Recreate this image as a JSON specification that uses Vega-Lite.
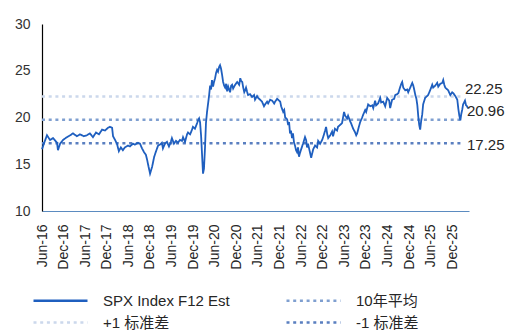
{
  "$schema": "https://vega.github.io/schema/vega-lite/v6.json",
  "width": 427,
  "height": 187,
  "autosize": {"type": "none"},
  "padding": {"left": 42, "top": 24, "right": 43, "bottom": 123},
  "background": "white",
  "config": {"view": {"stroke": null}, "font": "Liberation Sans", "axis": {"labelOverlap": false}},
  "datasets": {
    "spx": [
      {"d":"2016-06-01","SPX Index F12 Est":16.6},{"d":"2016-06-17","SPX Index F12 Est":17.2},{"d":"2016-07-13","SPX Index F12 Est":18.1},{"d":"2016-08-08","SPX Index F12 Est":17.6},{"d":"2016-09-03","SPX Index F12 Est":17.8},{"d":"2016-10-06","SPX Index F12 Est":17.3},{"d":"2016-10-14","SPX Index F12 Est":16.5},{"d":"2016-11-01","SPX Index F12 Est":17.2},{"d":"2016-11-26","SPX Index F12 Est":17.6},{"d":"2016-12-29","SPX Index F12 Est":17.9},
      {"d":"2017-01-25","SPX Index F12 Est":18.1},{"d":"2017-02-18","SPX Index F12 Est":18.3},{"d":"2017-03-23","SPX Index F12 Est":18.0},{"d":"2017-04-18","SPX Index F12 Est":18.2},{"d":"2017-05-21","SPX Index F12 Est":18.0},{"d":"2017-06-16","SPX Index F12 Est":18.1},{"d":"2017-07-11","SPX Index F12 Est":18.3},{"d":"2017-08-06","SPX Index F12 Est":17.9},{"d":"2017-09-01","SPX Index F12 Est":18.4},{"d":"2017-09-26","SPX Index F12 Est":18.2},{"d":"2017-10-22","SPX Index F12 Est":18.7},{"d":"2017-11-16","SPX Index F12 Est":18.6},{"d":"2017-12-11","SPX Index F12 Est":18.9},{"d":"2017-12-28","SPX Index F12 Est":19.0},
      {"d":"2018-01-15","SPX Index F12 Est":18.9},{"d":"2018-01-23","SPX Index F12 Est":18.0},{"d":"2018-02-09","SPX Index F12 Est":17.6},{"d":"2018-02-25","SPX Index F12 Est":17.2},{"d":"2018-03-13","SPX Index F12 Est":16.4},{"d":"2018-03-30","SPX Index F12 Est":16.8},{"d":"2018-04-16","SPX Index F12 Est":16.5},{"d":"2018-05-03","SPX Index F12 Est":16.8},{"d":"2018-05-29","SPX Index F12 Est":17.0},{"d":"2018-06-15","SPX Index F12 Est":16.9},{"d":"2018-07-10","SPX Index F12 Est":17.2},{"d":"2018-07-27","SPX Index F12 Est":17.1},{"d":"2018-08-22","SPX Index F12 Est":17.3},{"d":"2018-09-08","SPX Index F12 Est":17.2},{"d":"2018-09-25","SPX Index F12 Est":16.7},{"d":"2018-10-12","SPX Index F12 Est":16.3},{"d":"2018-10-28","SPX Index F12 Est":16.0},{"d":"2018-11-07","SPX Index F12 Est":15.5},{"d":"2018-11-15","SPX Index F12 Est":15.0},{"d":"2018-12-02","SPX Index F12 Est":14.0},{"d":"2018-12-19","SPX Index F12 Est":14.7},
      {"d":"2019-01-06","SPX Index F12 Est":15.8},{"d":"2019-01-22","SPX Index F12 Est":16.4},{"d":"2019-02-08","SPX Index F12 Est":17.0},{"d":"2019-02-24","SPX Index F12 Est":17.1},{"d":"2019-03-12","SPX Index F12 Est":17.3},{"d":"2019-03-21","SPX Index F12 Est":16.7},{"d":"2019-04-07","SPX Index F12 Est":17.2},{"d":"2019-04-24","SPX Index F12 Est":17.4},{"d":"2019-05-11","SPX Index F12 Est":16.9},{"d":"2019-05-27","SPX Index F12 Est":17.4},{"d":"2019-06-05","SPX Index F12 Est":17.8},{"d":"2019-06-22","SPX Index F12 Est":17.2},{"d":"2019-07-09","SPX Index F12 Est":17.5},{"d":"2019-07-26","SPX Index F12 Est":17.3},{"d":"2019-08-12","SPX Index F12 Est":17.6},{"d":"2019-08-29","SPX Index F12 Est":17.5},{"d":"2019-09-07","SPX Index F12 Est":17.9},{"d":"2019-09-24","SPX Index F12 Est":17.4},{"d":"2019-10-11","SPX Index F12 Est":18.2},{"d":"2019-10-19","SPX Index F12 Est":18.4},{"d":"2019-11-06","SPX Index F12 Est":18.2},{"d":"2019-11-22","SPX Index F12 Est":18.7},{"d":"2019-11-30","SPX Index F12 Est":19.0},{"d":"2019-12-17","SPX Index F12 Est":18.8},
      {"d":"2020-01-04","SPX Index F12 Est":19.4},{"d":"2020-01-12","SPX Index F12 Est":19.7},{"d":"2020-01-21","SPX Index F12 Est":19.9},{"d":"2020-01-29","SPX Index F12 Est":19.5},{"d":"2020-02-07","SPX Index F12 Est":18.0},{"d":"2020-02-15","SPX Index F12 Est":16.0},{"d":"2020-02-23","SPX Index F12 Est":14.0},{"d":"2020-03-02","SPX Index F12 Est":14.5},{"d":"2020-03-11","SPX Index F12 Est":16.8},{"d":"2020-03-19","SPX Index F12 Est":19.4},{"d":"2020-03-28","SPX Index F12 Est":20.6},{"d":"2020-04-06","SPX Index F12 Est":21.5},{"d":"2020-04-14","SPX Index F12 Est":22.3},{"d":"2020-04-23","SPX Index F12 Est":23.4},{"d":"2020-05-01","SPX Index F12 Est":23.0},{"d":"2020-05-09","SPX Index F12 Est":24.0},{"d":"2020-05-18","SPX Index F12 Est":23.3},{"d":"2020-05-26","SPX Index F12 Est":23.8},{"d":"2020-06-04","SPX Index F12 Est":24.2},{"d":"2020-06-13","SPX Index F12 Est":24.8},{"d":"2020-06-21","SPX Index F12 Est":25.1},{"d":"2020-06-29","SPX Index F12 Est":24.9},{"d":"2020-07-08","SPX Index F12 Est":25.4},{"d":"2020-07-16","SPX Index F12 Est":25.6},{"d":"2020-07-25","SPX Index F12 Est":25.2},{"d":"2020-08-03","SPX Index F12 Est":24.5},{"d":"2020-08-11","SPX Index F12 Est":23.8},{"d":"2020-08-20","SPX Index F12 Est":23.4},{"d":"2020-08-28","SPX Index F12 Est":23.2},{"d":"2020-09-06","SPX Index F12 Est":23.6},{"d":"2020-09-14","SPX Index F12 Est":22.8},{"d":"2020-09-23","SPX Index F12 Est":23.3},{"d":"2020-10-01","SPX Index F12 Est":23.0},{"d":"2020-10-09","SPX Index F12 Est":22.7},{"d":"2020-10-18","SPX Index F12 Est":23.4},{"d":"2020-10-26","SPX Index F12 Est":23.5},{"d":"2020-11-04","SPX Index F12 Est":23.1},{"d":"2020-11-21","SPX Index F12 Est":23.5},{"d":"2020-12-08","SPX Index F12 Est":23.8},{"d":"2020-12-25","SPX Index F12 Est":23.5},
      {"d":"2021-01-03","SPX Index F12 Est":24.2},{"d":"2021-01-11","SPX Index F12 Est":23.9},{"d":"2021-01-20","SPX Index F12 Est":23.8},{"d":"2021-01-28","SPX Index F12 Est":23.2},{"d":"2021-02-06","SPX Index F12 Est":22.7},{"d":"2021-02-13","SPX Index F12 Est":22.9},{"d":"2021-02-21","SPX Index F12 Est":23.2},{"d":"2021-03-01","SPX Index F12 Est":22.8},{"d":"2021-03-10","SPX Index F12 Est":22.4},{"d":"2021-03-27","SPX Index F12 Est":22.5},{"d":"2021-04-13","SPX Index F12 Est":22.2},{"d":"2021-04-30","SPX Index F12 Est":22.4},{"d":"2021-05-08","SPX Index F12 Est":21.9},{"d":"2021-05-25","SPX Index F12 Est":22.3},{"d":"2021-06-03","SPX Index F12 Est":22.1},{"d":"2021-06-20","SPX Index F12 Est":21.9},{"d":"2021-07-06","SPX Index F12 Est":21.7},{"d":"2021-07-23","SPX Index F12 Est":21.2},{"d":"2021-08-01","SPX Index F12 Est":21.4},{"d":"2021-08-18","SPX Index F12 Est":21.7},{"d":"2021-08-27","SPX Index F12 Est":21.5},{"d":"2021-09-13","SPX Index F12 Est":21.9},{"d":"2021-09-30","SPX Index F12 Est":21.8},{"d":"2021-10-17","SPX Index F12 Est":21.5},{"d":"2021-10-25","SPX Index F12 Est":21.7},{"d":"2021-11-11","SPX Index F12 Est":22.0},{"d":"2021-11-20","SPX Index F12 Est":21.9},{"d":"2021-12-07","SPX Index F12 Est":21.7},{"d":"2021-12-15","SPX Index F12 Est":21.2},
      {"d":"2022-01-01","SPX Index F12 Est":20.6},{"d":"2022-01-10","SPX Index F12 Est":20.8},{"d":"2022-01-18","SPX Index F12 Est":20.0},{"d":"2022-02-04","SPX Index F12 Est":19.8},{"d":"2022-02-12","SPX Index F12 Est":19.2},{"d":"2022-02-20","SPX Index F12 Est":19.5},{"d":"2022-02-28","SPX Index F12 Est":18.3},{"d":"2022-03-08","SPX Index F12 Est":18.6},{"d":"2022-03-17","SPX Index F12 Est":17.8},{"d":"2022-03-25","SPX Index F12 Est":18.3},{"d":"2022-04-03","SPX Index F12 Est":17.3},{"d":"2022-04-11","SPX Index F12 Est":17.0},{"d":"2022-04-20","SPX Index F12 Est":16.5},{"d":"2022-04-28","SPX Index F12 Est":16.3},{"d":"2022-05-07","SPX Index F12 Est":16.8},{"d":"2022-05-15","SPX Index F12 Est":15.8},{"d":"2022-05-23","SPX Index F12 Est":16.2},{"d":"2022-06-10","SPX Index F12 Est":16.9},{"d":"2022-06-18","SPX Index F12 Est":17.2},{"d":"2022-07-05","SPX Index F12 Est":17.9},{"d":"2022-07-14","SPX Index F12 Est":17.6},{"d":"2022-07-22","SPX Index F12 Est":16.8},{"d":"2022-07-30","SPX Index F12 Est":17.2},{"d":"2022-08-17","SPX Index F12 Est":16.2},{"d":"2022-08-26","SPX Index F12 Est":15.7},{"d":"2022-09-12","SPX Index F12 Est":16.6},{"d":"2022-09-28","SPX Index F12 Est":17.0},{"d":"2022-10-15","SPX Index F12 Est":16.8},{"d":"2022-10-24","SPX Index F12 Est":17.5},{"d":"2022-11-10","SPX Index F12 Est":17.2},{"d":"2022-11-27","SPX Index F12 Est":17.6},{"d":"2022-12-05","SPX Index F12 Est":17.9},{"d":"2022-12-22","SPX Index F12 Est":18.6},{"d":"2022-12-30","SPX Index F12 Est":19.0},
      {"d":"2023-01-09","SPX Index F12 Est":18.2},{"d":"2023-01-17","SPX Index F12 Est":17.8},{"d":"2023-02-03","SPX Index F12 Est":18.1},{"d":"2023-02-11","SPX Index F12 Est":18.3},{"d":"2023-02-19","SPX Index F12 Est":18.5},{"d":"2023-02-27","SPX Index F12 Est":18.0},{"d":"2023-03-15","SPX Index F12 Est":18.8},{"d":"2023-04-02","SPX Index F12 Est":18.6},{"d":"2023-04-10","SPX Index F12 Est":19.0},{"d":"2023-04-27","SPX Index F12 Est":19.2},{"d":"2023-05-14","SPX Index F12 Est":19.4},{"d":"2023-05-31","SPX Index F12 Est":20.6},{"d":"2023-06-09","SPX Index F12 Est":20.2},{"d":"2023-06-26","SPX Index F12 Est":19.9},{"d":"2023-07-04","SPX Index F12 Est":20.2},{"d":"2023-07-21","SPX Index F12 Est":19.6},{"d":"2023-07-29","SPX Index F12 Est":19.4},{"d":"2023-08-07","SPX Index F12 Est":19.1},{"d":"2023-08-16","SPX Index F12 Est":18.8},{"d":"2023-09-02","SPX Index F12 Est":18.4},{"d":"2023-09-11","SPX Index F12 Est":18.1},{"d":"2023-09-19","SPX Index F12 Est":18.3},{"d":"2023-09-27","SPX Index F12 Est":18.7},{"d":"2023-10-14","SPX Index F12 Est":19.5},{"d":"2023-10-31","SPX Index F12 Est":20.0},{"d":"2023-11-09","SPX Index F12 Est":20.3},{"d":"2023-11-26","SPX Index F12 Est":20.8},{"d":"2023-12-04","SPX Index F12 Est":20.6},{"d":"2023-12-21","SPX Index F12 Est":21.4},
      {"d":"2024-01-08","SPX Index F12 Est":21.2},{"d":"2024-01-25","SPX Index F12 Est":21.3},{"d":"2024-02-02","SPX Index F12 Est":21.0},{"d":"2024-02-18","SPX Index F12 Est":21.8},{"d":"2024-02-26","SPX Index F12 Est":21.3},{"d":"2024-03-14","SPX Index F12 Est":21.5},{"d":"2024-04-01","SPX Index F12 Est":22.1},{"d":"2024-04-09","SPX Index F12 Est":21.6},{"d":"2024-04-26","SPX Index F12 Est":21.7},{"d":"2024-05-13","SPX Index F12 Est":21.2},{"d":"2024-05-30","SPX Index F12 Est":22.1},{"d":"2024-06-16","SPX Index F12 Est":21.8},{"d":"2024-06-24","SPX Index F12 Est":21.0},{"d":"2024-07-03","SPX Index F12 Est":21.5},{"d":"2024-07-11","SPX Index F12 Est":21.9},{"d":"2024-07-28","SPX Index F12 Est":22.0},{"d":"2024-08-06","SPX Index F12 Est":22.4},{"d":"2024-08-23","SPX Index F12 Est":22.5},{"d":"2024-09-01","SPX Index F12 Est":22.6},{"d":"2024-09-18","SPX Index F12 Est":23.3},{"d":"2024-09-26","SPX Index F12 Est":23.6},{"d":"2024-10-04","SPX Index F12 Est":23.8},{"d":"2024-10-13","SPX Index F12 Est":23.2},{"d":"2024-10-30","SPX Index F12 Est":22.9},{"d":"2024-11-16","SPX Index F12 Est":23.0},{"d":"2024-11-24","SPX Index F12 Est":22.7},{"d":"2024-12-11","SPX Index F12 Est":23.2},{"d":"2024-12-28","SPX Index F12 Est":23.7},
      {"d":"2025-01-06","SPX Index F12 Est":23.4},{"d":"2025-01-15","SPX Index F12 Est":22.9},{"d":"2025-01-23","SPX Index F12 Est":22.4},{"d":"2025-02-01","SPX Index F12 Est":22.0},{"d":"2025-02-09","SPX Index F12 Est":21.3},{"d":"2025-02-17","SPX Index F12 Est":20.1},{"d":"2025-02-25","SPX Index F12 Est":19.2},{"d":"2025-03-05","SPX Index F12 Est":18.7},{"d":"2025-03-13","SPX Index F12 Est":19.6},{"d":"2025-03-22","SPX Index F12 Est":20.3},{"d":"2025-03-30","SPX Index F12 Est":21.4},{"d":"2025-04-16","SPX Index F12 Est":22.1},{"d":"2025-05-03","SPX Index F12 Est":22.3},{"d":"2025-05-11","SPX Index F12 Est":22.4},{"d":"2025-05-28","SPX Index F12 Est":22.9},{"d":"2025-06-15","SPX Index F12 Est":23.5},{"d":"2025-06-23","SPX Index F12 Est":23.2},{"d":"2025-07-10","SPX Index F12 Est":23.4},{"d":"2025-07-27","SPX Index F12 Est":23.7},{"d":"2025-08-05","SPX Index F12 Est":23.3},{"d":"2025-08-22","SPX Index F12 Est":23.6},{"d":"2025-09-08","SPX Index F12 Est":23.7},{"d":"2025-09-16","SPX Index F12 Est":24.0},{"d":"2025-09-25","SPX Index F12 Est":23.5},{"d":"2025-10-03","SPX Index F12 Est":23.2},{"d":"2025-10-20","SPX Index F12 Est":23.0},{"d":"2025-10-28","SPX Index F12 Est":22.9},{"d":"2025-11-15","SPX Index F12 Est":22.4},{"d":"2025-12-01","SPX Index F12 Est":22.7},{"d":"2025-12-10","SPX Index F12 Est":22.6},{"d":"2025-12-27","SPX Index F12 Est":22.3},
      {"d":"2026-01-13","SPX Index F12 Est":21.9},{"d":"2026-01-22","SPX Index F12 Est":20.9},{"d":"2026-01-30","SPX Index F12 Est":20.2},{"d":"2026-02-08","SPX Index F12 Est":19.7},{"d":"2026-02-16","SPX Index F12 Est":20.4},{"d":"2026-02-23","SPX Index F12 Est":20.8},{"d":"2026-03-03","SPX Index F12 Est":21.4},{"d":"2026-03-19","SPX Index F12 Est":21.8},{"d":"2026-03-28","SPX Index F12 Est":21.3},{"d":"2026-04-06","SPX Index F12 Est":21.2},{"d":"2026-04-14","SPX Index F12 Est":20.96}
    ],
    "refs": [
      {"d":"2016-06-01","10年平均":19.75,"+1 标准差":22.25,"-1 标准差":17.25},
      {"d":"2026-03-01","10年平均":19.75,"+1 标准差":22.25,"-1 标准差":17.25}
    ],
    "labels": [
      {"d":"2026-04-22","label":"22.25","value":22.25,"pos":"up"},
      {"d":"2026-04-22","label":"20.96","value":20.96,"pos":"mid"},
      {"d":"2026-04-22","label":"17.25","value":17.25,"pos":"mid"}
    ]
  },
  "encoding": {
    "x": {
      "field": "d", "type": "temporal",
      "scale": {"domain": [{"year": 2016, "month": 6, "date": 1}, {"year": 2026, "month": 4, "date": 22}]},
      "axis": {
        "title": null, "format": "%b-%y", "labelAngle": 270, "ticks": false, "grid": false,
        "domainColor": "#5b8bc0", "domainWidth": 1.2,
        "labelFontSize": 14, "labelColor": "#262626", "labelPadding": 13,
        "labelFlush": false, "labelOverlap": false, "labelBound": false,
        "values": [
          {"year": 2016, "month": 6, "date": 1}, {"year": 2016, "month": 12, "date": 1},
          {"year": 2017, "month": 6, "date": 1}, {"year": 2017, "month": 12, "date": 1},
          {"year": 2018, "month": 6, "date": 1}, {"year": 2018, "month": 12, "date": 1},
          {"year": 2019, "month": 6, "date": 1}, {"year": 2019, "month": 12, "date": 1},
          {"year": 2020, "month": 6, "date": 1}, {"year": 2020, "month": 12, "date": 1},
          {"year": 2021, "month": 6, "date": 1}, {"year": 2021, "month": 12, "date": 1},
          {"year": 2022, "month": 6, "date": 1}, {"year": 2022, "month": 12, "date": 1},
          {"year": 2023, "month": 6, "date": 1}, {"year": 2023, "month": 12, "date": 1},
          {"year": 2024, "month": 6, "date": 1}, {"year": 2024, "month": 12, "date": 1},
          {"year": 2025, "month": 6, "date": 1}, {"year": 2025, "month": 12, "date": 1}
        ]
      }
    },
    "y": {
      "field": "value", "type": "quantitative",
      "scale": {"domain": [10, 30], "nice": false, "zero": false},
      "axis": {
        "title": null, "values": [10, 15, 20, 25, 30], "ticks": false, "grid": false,
        "domainColor": "#000000", "domainWidth": 1.2,
        "labelFontSize": 14, "labelColor": "#333333", "labelPadding": 12
      }
    }
  },
  "layer": [
    {
      "data": {"name": "refs"},
      "transform": [{"fold": ["10年平均", "+1 标准差", "-1 标准差"], "as": ["series", "value"]}],
      "mark": {"type": "line", "strokeWidth": 2.5},
      "encoding": {
        "color": {
          "field": "series", "type": "nominal",
          "scale": {
            "domain": ["SPX Index F12 Est", "10年平均", "+1 标准差", "-1 标准差"],
            "range": ["#1f5fbf", "#7f9fd0", "#cbd8ec", "#5a7fc0"]
          },
          "legend": {
            "title": null, "orient": "none", "legendX": 7, "legendY": 265,
            "direction": "horizontal", "columns": 2, "columnPadding": 51, "rowPadding": 2, "padding": 0,
            "symbolType": "M-2.7,0H2.7", "symbolSize": 400, "symbolStrokeWidth": 2.5,
            "labelFontSize": 15, "labelColor": "#262626", "labelOffset": 31, "labelLimit": 300,
            "labelFont": "Liberation Sans, Noto Sans CJK SC"
          }
        },
        "strokeDash": {
          "field": "series", "type": "nominal",
          "scale": {
            "domain": ["SPX Index F12 Est", "10年平均", "+1 标准差", "-1 标准差"],
            "range": [[1, 0], [3, 3.7], [3, 3.7], [3, 3.7]]
          }
        }
      }
    },
    {
      "data": {"name": "spx"},
      "transform": [{"fold": ["SPX Index F12 Est"], "as": ["series", "value"]}],
      "mark": {"type": "line", "strokeWidth": 1.8},
      "encoding": {
        "color": {"field": "series", "type": "nominal"},
        "strokeDash": {"field": "series", "type": "nominal"}
      }
    },
    {
      "data": {"name": "labels"},
      "transform": [{"filter": "datum.pos == 'up'"}],
      "mark": {"type": "text", "align": "left", "baseline": "middle", "dx": -4, "dy": -7, "fontSize": 15, "color": "#262626", "font": "Liberation Sans"},
      "encoding": {
        "text": {"field": "label"}
      }
    },
    {
      "data": {"name": "labels"},
      "transform": [{"filter": "datum.pos == 'mid'"}],
      "mark": {"type": "text", "align": "left", "baseline": "middle", "dx": -2, "dy": 2, "fontSize": 15, "color": "#262626", "font": "Liberation Sans"},
      "encoding": {
        "text": {"field": "label"}
      }
    }
  ]
}
